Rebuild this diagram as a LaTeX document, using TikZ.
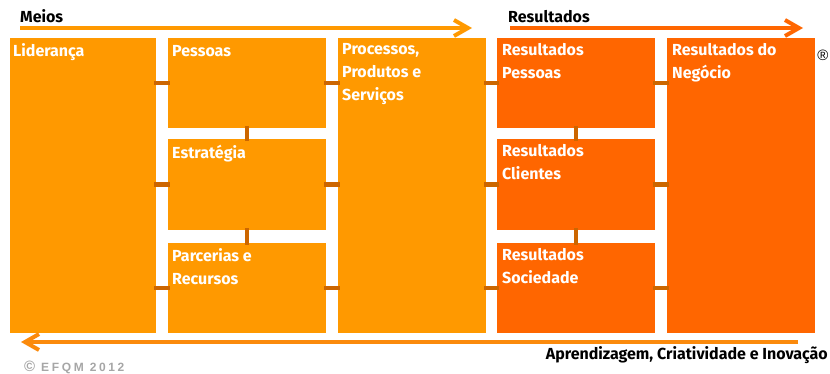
\documentclass[tikz,border=0pt]{standalone}
\usepackage{fontspec}
\setmainfont{Fira Sans}
\newfontfamily\copyfont[LetterSpace=22]{Liberation Sans}
\newfontfamily\symfont{Liberation Sans}
\usepackage{tikz}
\usetikzlibrary{arrows.meta,positioning,calc}

\definecolor{meiosor}{HTML}{FF9900}
\definecolor{resor}{HTML}{FF6600}
\definecolor{connor}{HTML}{CC6600}
\definecolor{backor}{HTML}{FB8A0C}

\tikzset{
  meio/.style={fill=meiosor,anchor=north west,inner sep=0pt,minimum width=#1},
  meio/.default=158,
  resul/.style={fill=resor,anchor=north west,inner sep=0pt,minimum width=158},
  boxtext/.style={anchor=north west,inner sep=0pt,text=white,align=left,
    font=\fontsize{16}{23}\selectfont\bfseries,
    execute at begin node={\rule{0pt}{12.5pt}}},
  conn/.style={draw=connor,line width=4.5pt},
  bigarrow/.style={line width=4pt,-{Straight Barb[length=14pt,width=16pt]}},
  headtext/.style={inner sep=0pt,font=\fontsize{16}{18}\selectfont\bfseries}
}

\begin{document}
\begin{tikzpicture}[x=1pt,y=-1pt]
		\useasboundingbox (0,0) rectangle (830,374);
		% boxes
		\node[meio=146,minimum height=295] (lid) at (10,38) {};
		\node[meio,minimum height=90] (pes) at (168,38) {};
		\node[meio,minimum height=91] (est) at (168,139) {};
		\node[meio,minimum height=90] (par) at (168,243) {};
		\node[meio=148,minimum height=295] (pro) at (338,38) {};
		\node[resul,minimum height=90] (rpes) at (497,38) {};
		\node[resul,minimum height=91] (rcli) at (497,139) {};
		\node[resul,minimum height=90] (rsoc) at (497,243) {};
		\node[resul,minimum width=148,minimum height=295] (rneg) at (667,38) {};
		% labels
		\node[boxtext] (lidt) at ([shift={(3,5.5)}]lid.north west) {Liderança};
		\node[boxtext] (pest) at ([shift={(4,5.5)}]pes.north west) {Pessoas};
		\node[boxtext] (estt) at ([shift={(4,5.5)}]est.north west) {Estratégia};
		\node[boxtext] (part) at ([shift={(4,5.5)}]par.north west) {Parcerias e\\Recursos};
		\node[boxtext] (prot) at ([shift={(4,5.5)}]pro.north west) {Processos,\\Produtos e\\Serviços};
		\node[boxtext] (rpest) at ([shift={(5,5.5)}]rpes.north west) {Resultados\\Pessoas};
		\node[boxtext] (rclit) at ([shift={(5,5.5)}]rcli.north west) {Resultados\\Clientes};
		\node[boxtext] (rsoct) at ([shift={(5,5.5)}]rsoc.north west) {Resultados\\Sociedade};
		\node[boxtext] (rnegt) at ([shift={(5,5.5)}]rneg.north west) {Resultados do\\Negócio};
		% connectors
		\foreach \a/\b in {pes/lid,est/lid,par/lid,rpes/pro,rcli/pro,rsoc/pro}
			\draw[conn] ([xshift=-2pt]\b.east |- \a.west) -- ([xshift=2pt]\a.west);
		\foreach \a/\b in {pes/pro,est/pro,par/pro,rpes/rneg,rcli/rneg,rsoc/rneg}
			\draw[conn] ([xshift=-2pt]\a.east) -- ([xshift=2pt]\b.west |- \a.east);
		\foreach \a/\b in {pes/est,est/par,rpes/rcli,rcli/rsoc}
			\draw[conn] ([yshift=2pt]\a.south) -- ([yshift=-2pt]\b.north);
		% arrows
		\coordinate (m1) at (20,28);
		\coordinate (m2) at (472,28);
		\coordinate (r1) at (510,28);
		\coordinate (r2) at (803,28);
		\coordinate (b1) at (798,342);
		\coordinate (b2) at (21,342);
		\draw[bigarrow,meiosor] (m1) -- (m2);
		\draw[bigarrow,resor] (r1) -- (r2);
		\draw[bigarrow,backor] (b1) -- (b2);
		\node[headtext,anchor=base west] (meios) at (20,23) {Meios};
		\node[headtext,anchor=base west] (resul) at (508,23) {Resultados};
		\node[headtext,anchor=base east] (aprend) at (828,359) {Aprendizagem, Criatividade e Inovação};
		\node[inner sep=0pt,anchor=base,font=\symfont\fontsize{15}{15}\selectfont] (reg) at (823,61) {®};
		\node[inner sep=0pt,anchor=base west,text=gray!70,font=\copyfont\fontsize{12}{14}\selectfont\bfseries] (copy) at (24,371) {{\fontsize{15}{15}\selectfont ©} EFQM 2012};
\end{tikzpicture}
\end{document}
